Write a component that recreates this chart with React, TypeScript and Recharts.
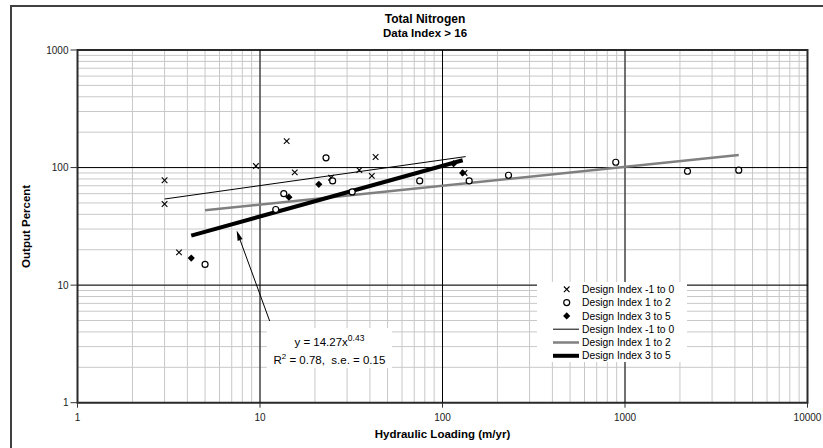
import React from 'react';
import {
  ComposedChart,
  Scatter,
  Line,
  XAxis,
  YAxis,
  CartesianGrid,
  ReferenceLine,
  ReferenceArea,
  Label,
} from 'recharts';

const FONT = '"Liberation Sans", Arial, Helvetica, sans-serif';

const chartTitle = 'Total Nitrogen';
const chartSubtitle = 'Data Index > 16';
const xAxisTitle = 'Hydraulic Loading (m/yr)';
const yAxisTitle = 'Output Percent';

const xMajorTicks = [1, 10, 100, 1000, 10000];
const yMajorTicks = [1, 10, 100, 1000];
const xGridTicks = [
  1, 2, 3, 4, 5, 6, 7, 8, 9,
  10, 20, 30, 40, 50, 60, 70, 80, 90,
  100, 200, 300, 400, 500, 600, 700, 800, 900,
  1000, 2000, 3000, 4000, 5000, 6000, 7000, 8000, 9000,
  10000,
];
const yGridTicks = [
  1, 2, 3, 4, 5, 6, 7, 8, 9,
  10, 20, 30, 40, 50, 60, 70, 80, 90,
  100, 200, 300, 400, 500, 600, 700, 800, 900,
  1000,
];

const seriesNames = ['Design Index -1 to 0', 'Design Index 1 to 2', 'Design Index 3 to 5'];

// Design Index -1 to 0 (crosses)
const crossX = [3, 3, 3.6, 9.5, 14, 15.5, 24.5, 35, 41, 43, 132];
const crossY = [78, 49, 19, 103, 168, 91, 82, 95, 85, 123, 90];
// Design Index 1 to 2 (circles)
const circleX = [5, 12.2, 13.5, 23, 25, 32, 75, 140, 230, 890, 2200, 4200];
const circleY = [15, 44, 60, 121, 77, 62, 77, 77, 86, 111, 93, 95];
// Design Index 3 to 5 (diamonds)
const diamondX = [4.2, 14.4, 21, 115, 129];
const diamondY = [17, 56, 72, 108, 90];

// Fitted power-law lines (end points)
const thinLineX = [3, 134];
const thinLineY = [54, 124];
const grayLineX = [5, 4200];
const grayLineY = [43.3, 128];
const thickLineX = [4.2, 129];
const thickLineY = [26.4, 115.5];

// Annotation box and arrow (data coordinates)
const annoBoxX = [10.9, 52.9];
const annoBoxY = [1.97, 4.32];
const arrowFrom = { x: 11.3, y: 4.95 };
const arrowTo = { x: 7.45, y: 29.1 };
const equationText = 'y = 14.27x';
const equationExp = '0.43';
const statsText = ' = 0.78,  s.e. = 0.15';

const zip = (xs: number[], ys: number[]) => xs.map((x, i) => ({ x, y: ys[i] }));

const crossData = zip(crossX, crossY);
const circleData = zip(circleX, circleY);
const diamondData = zip(diamondX, diamondY);
const thinLine = zip(thinLineX, thinLineY);
const grayLine = zip(grayLineX, grayLineY);
const thickLine = zip(thickLineX, thickLineY);

const CrossShape = (p: any) => {
  const { cx, cy } = p;
  if (cx == null || cy == null) return <g />;
  const s = 2.8;
  return (
    <g>
      <line x1={cx - s} y1={cy - s} x2={cx + s} y2={cy + s} stroke="#000" strokeWidth={1.1} />
      <line x1={cx - s} y1={cy + s} x2={cx + s} y2={cy - s} stroke="#000" strokeWidth={1.1} />
    </g>
  );
};
const CircleShape = (p: any) => {
  const { cx, cy } = p;
  if (cx == null || cy == null) return <g />;
  return <circle cx={cx} cy={cy} r={3} fill="#fff" stroke="#000" strokeWidth={1.2} />;
};
const DiamondShape = (p: any) => {
  const { cx, cy } = p;
  if (cx == null || cy == null) return <g />;
  const s = 3.6;
  return <polygon points={`${cx},${cy - s} ${cx + s},${cy} ${cx},${cy + s} ${cx - s},${cy}`} fill="#000" />;
};

const X_TICK_SIZE = 5;
const X_TICK_MARGIN = 6;
const Y_TICK_SIZE = 7;
const Y_TICK_MARGIN = 2;

const XTick = (p: any) => {
  const { x, y, payload } = p;
  const v = payload?.value;
  if (!xMajorTicks.includes(v)) return <g />;
  const axisY = y - X_TICK_MARGIN - X_TICK_SIZE;
  return (
    <g>
      <line x1={x} x2={x} y1={axisY} y2={axisY + X_TICK_SIZE} stroke="#333" strokeWidth={1} />
      <text x={x} y={y} dy="0.71em" textAnchor="middle" fontSize={10} fontFamily={FONT} fill="#222">
        {v}
      </text>
    </g>
  );
};

const YTick = (p: any) => {
  const { x, y, payload } = p;
  const v = payload?.value;
  if (!yMajorTicks.includes(v)) return <g />;
  const lineStart = x + Y_TICK_MARGIN;
  return (
    <g>
      <line x1={lineStart} x2={lineStart + Y_TICK_SIZE} y1={y} y2={y} stroke="#333" strokeWidth={1} />
      <text x={x} y={y} dy="0.355em" textAnchor="end" fontSize={10} fontFamily={FONT} fill="#222">
        {v}
      </text>
    </g>
  );
};

const ArrowShape = (p: any) => {
  const { x1, y1, x2, y2 } = p;
  if ([x1, y1, x2, y2].some((v) => v == null || isNaN(v))) return <g />;
  const ang = Math.atan2(y2 - y1, x2 - x1);
  const L = 10;
  const W = 2.6;
  const bx = x2 - L * Math.cos(ang);
  const by = y2 - L * Math.sin(ang);
  const px = -Math.sin(ang) * W;
  const py = Math.cos(ang) * W;
  return (
    <g>
      <line x1={x1} y1={y1} x2={bx} y2={by} stroke="#000" strokeWidth={1} />
      <polygon points={`${x2},${y2} ${bx + px},${by + py} ${bx - px},${by - py}`} fill="#000" />
    </g>
  );
};

const AnnotationLabel = (p: any) => {
  const vb = p?.viewBox || {};
  const x = vb.x ?? 0;
  const y = vb.y ?? 0;
  const w = vb.width ?? 0;
  const cx = x + w / 2;
  return (
    <g fontFamily={FONT} fill="#000">
      <text x={cx} y={y + 18} textAnchor="middle" fontSize={11.5}>
        {equationText}
        <tspan dy={-5} fontSize={8.5}>{equationExp}</tspan>
      </text>
      <text x={cx} y={y + 36} textAnchor="middle" fontSize={11.5} style={{ whiteSpace: 'pre' }}>
        R
        <tspan dy={-5} fontSize={8}>2</tspan>
        <tspan dy={5}>{statsText}</tspan>
      </text>
    </g>
  );
};

const LegendBox = () => {
  const rowH = 13.3;
  const firstY = 7.3;
  const markerX = 29.7;
  const textX = 45;
  const rows: React.ReactNode[] = [];
  const markers = [CrossShape, CircleShape, DiamondShape];
  seriesNames.forEach((name, i) => {
    const cy = firstY + i * rowH;
    const M = markers[i];
    rows.push(
      <g key={`m${i}`}>
        <M cx={markerX} cy={cy} />
        <text x={textX} y={cy} dy="0.355em" fontSize={10.3} fontFamily={FONT} fill="#000">
          {name}
        </text>
      </g>
    );
  });
  const lineStyles = [
    { stroke: '#000', w: 1 },
    { stroke: '#808080', w: 2.5 },
    { stroke: '#000', w: 4 },
  ];
  seriesNames.forEach((name, i) => {
    const cy = firstY + (i + 3) * rowH;
    rows.push(
      <g key={`l${i}`}>
        <line x1={16} x2={42} y1={cy} y2={cy} stroke={lineStyles[i].stroke} strokeWidth={lineStyles[i].w} />
        <text x={textX} y={cy} dy="0.355em" fontSize={10.3} fontFamily={FONT} fill="#000">
          {name}
        </text>
      </g>
    );
  });
  return (
    <svg width={150} height={80} style={{ display: 'block', background: '#fff' }}>
      {rows}
    </svg>
  );
};

export default function App() {
  return (
    <div
      style={{
        position: 'absolute',
        left: 0,
        top: 0,
        width: 823,
        height: 448,
        overflow: 'hidden',
        background: '#fff',
        fontFamily: FONT,
      }}
    >
      <div
        style={{
          position: 'absolute',
          left: 10,
          top: 5,
          width: 900,
          height: 500,
          borderLeft: '2px solid #404040',
          borderTop: '2px solid #404040',
        }}
      />
      <div
        style={{
          position: 'absolute',
          left: 0,
          top: 13,
          width: 850,
          textAlign: 'center',
          fontWeight: 'bold',
          fontSize: 12,
          lineHeight: '13px',
          color: '#000',
        }}
      >
        {chartTitle}
      </div>
      <div
        style={{
          position: 'absolute',
          left: 0,
          top: 27,
          width: 850,
          textAlign: 'center',
          fontWeight: 'bold',
          fontSize: 11.5,
          lineHeight: '13px',
          color: '#000',
        }}
      >
        {chartSubtitle}
      </div>
      <div style={{ position: 'absolute', left: 0, top: 0 }}>
        <ComposedChart
          width={823}
          height={448}
          margin={{ top: 50, right: 15.5, left: 17.5, bottom: 5.3 }}
        >
          <CartesianGrid stroke="#c8c8c8" strokeWidth={1} />
          <XAxis
            dataKey="x"
            type="number"
            scale="log"
            domain={[1, 10000]}
            ticks={xGridTicks}
            interval={0}
            allowDataOverflow
            height={40}
            axisLine={false}
            tickLine={false}
            tickSize={X_TICK_SIZE}
            tickMargin={X_TICK_MARGIN}
            tick={<XTick />}
          >
            <Label
              value={xAxisTitle}
              position="insideBottom"
              offset={5}
              style={{ fontFamily: FONT, fontSize: 11.5, fontWeight: 'bold', fill: '#000' }}
            />
          </XAxis>
          <YAxis
            dataKey="y"
            type="number"
            scale="log"
            domain={[1, 1000]}
            ticks={yGridTicks}
            interval={0}
            allowDataOverflow
            width={60}
            axisLine={false}
            tickLine={false}
            tickSize={Y_TICK_SIZE}
            tickMargin={Y_TICK_MARGIN}
            tick={<YTick />}
          >
            <Label
              value={yAxisTitle}
              angle={-90}
              position="insideLeft"
              offset={8}
              style={{ fontFamily: FONT, fontSize: 11.5, fontWeight: 'bold', fill: '#000', textAnchor: 'middle' }}
            />
          </YAxis>
          {xMajorTicks.slice(1, -1).map((v) => (
            <ReferenceLine key={`vx${v}`} x={v} stroke="#000" strokeWidth={1} />
          ))}
          {yMajorTicks.slice(1, -1).map((v) => (
            <ReferenceLine key={`hy${v}`} y={v} stroke="#000" strokeWidth={1} />
          ))}
          <ReferenceArea
            x1={xMajorTicks[0]}
            x2={xMajorTicks[xMajorTicks.length - 1]}
            y1={yMajorTicks[0]}
            y2={yMajorTicks[yMajorTicks.length - 1]}
            fill="none"
            fillOpacity={0}
            stroke="#2a2a2a"
            strokeWidth={2}
          />
          <ReferenceArea
            x1={annoBoxX[0]}
            x2={annoBoxX[1]}
            y1={annoBoxY[0]}
            y2={annoBoxY[1]}
            fill="#fff"
            fillOpacity={1}
            stroke="none"
            label={<AnnotationLabel />}
          />
          <ReferenceLine
            segment={[arrowFrom, arrowTo]}
            stroke="#000"
            shape={<ArrowShape />}
          />
          <Scatter name={seriesNames[0]} data={crossData} shape={<CrossShape />} isAnimationActive={false} />
          <Scatter name={seriesNames[1]} data={circleData} shape={<CircleShape />} isAnimationActive={false} />
          <Scatter name={seriesNames[2]} data={diamondData} shape={<DiamondShape />} isAnimationActive={false} />
          <Line data={thinLine} dataKey="y" type="linear" stroke="#000" strokeWidth={1} dot={false} activeDot={false} isAnimationActive={false} />
          <Line data={grayLine} dataKey="y" type="linear" stroke="#808080" strokeWidth={2.5} dot={false} activeDot={false} isAnimationActive={false} />
          <Line data={thickLine} dataKey="y" type="linear" stroke="#000" strokeWidth={4} dot={false} activeDot={false} isAnimationActive={false} />
        </ComposedChart>
      </div>
      <div style={{ position: 'absolute', left: 537, top: 282 }}>
        <LegendBox />
      </div>
    </div>
  );
}
